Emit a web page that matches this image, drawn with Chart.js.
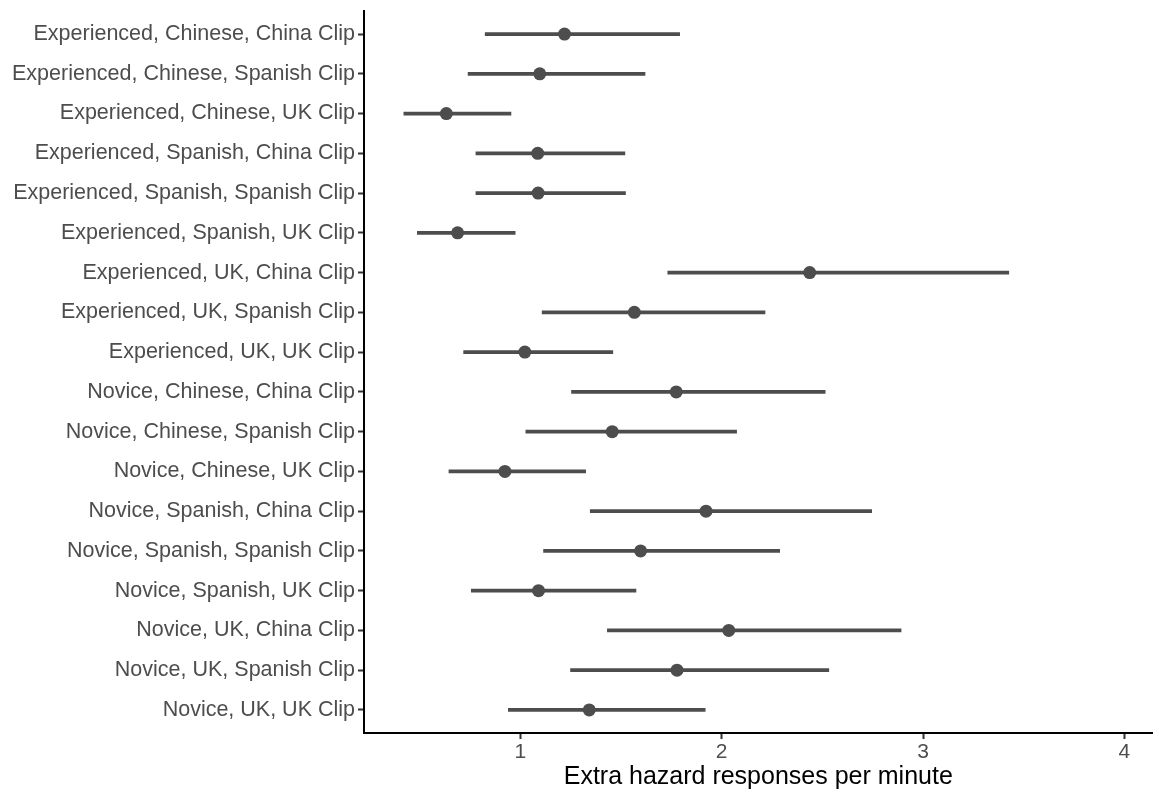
<!DOCTYPE html>
<html>
<head>
<meta charset="utf-8">
<script src="https://cdn.jsdelivr.net/npm/chart.js@4.4.1/dist/chart.umd.min.js"></script>
<style>
  html, body { margin: 0; padding: 0; background: #fff; }
  #wrap { width: 1159px; height: 792px; }
</style>
</head>
<body>
<div id="wrap"><canvas id="chart"></canvas></div>
<script>
// rows, top to bottom
const labels = [
    'Experienced, Chinese, China Clip',
    'Experienced, Chinese, Spanish Clip',
    'Experienced, Chinese, UK Clip',
    'Experienced, Spanish, China Clip',
    'Experienced, Spanish, Spanish Clip',
    'Experienced, Spanish, UK Clip',
    'Experienced, UK, China Clip',
    'Experienced, UK, Spanish Clip',
    'Experienced, UK, UK Clip',
    'Novice, Chinese, China Clip',
    'Novice, Chinese, Spanish Clip',
    'Novice, Chinese, UK Clip',
    'Novice, Spanish, China Clip',
    'Novice, Spanish, Spanish Clip',
    'Novice, Spanish, UK Clip',
    'Novice, UK, China Clip',
    'Novice, UK, Spanish Clip',
    'Novice, UK, UK Clip'
];
const estimate = [1.219, 1.096, 0.632, 1.086, 1.088, 0.688, 2.437, 1.566, 1.022, 1.774, 1.456, 0.923, 1.922, 1.597, 1.090, 2.035, 1.778, 1.342];
const lower = [0.825, 0.740, 0.421, 0.779, 0.779, 0.488, 1.732, 1.108, 0.718, 1.254, 1.027, 0.645, 1.347, 1.115, 0.756, 1.432, 1.249, 0.940];
const upper = [1.791, 1.619, 0.953, 1.519, 1.522, 0.974, 3.426, 2.215, 1.459, 2.514, 2.074, 1.324, 2.745, 2.288, 1.574, 2.891, 2.532, 1.918];
const xTicks = [1, 2, 3, 4];

const rows = labels.map((l, i) => i + 1);
const grey = '#4d4d4d';

new Chart(document.querySelector('#chart').getContext('2d'), {
    data: {
        datasets: [
            {
                type: 'bar',
                data: rows.map((r, i) => ({ y: r, x: [lower[i], upper[i]] })),
                backgroundColor: grey,
                borderWidth: 0,
                barThickness: 3,
                order: 2
            },
            {
                type: 'scatter',
                data: rows.map((r, i) => ({ x: estimate[i], y: r })),
                backgroundColor: grey,
                borderColor: grey,
                pointRadius: 6.5,
                pointBorderWidth: 0,
                order: 1
            }
        ]
    },
    options: {
        indexAxis: 'y',
        responsive: true,
        maintainAspectRatio: false,
        animation: false,
        layout: { padding: { top: 11, right: 3, left: 0, bottom: 0 } },
        plugins: {
            legend: { display: false },
            tooltip: { enabled: false }
        },
        scales: {
            x: {
                type: 'linear',
                min: 0.223,
                max: 4.14,
                afterBuildTicks: (axis) => { axis.ticks = xTicks.map(v => ({ value: v })); },
                afterFit: (axis) => { axis.height = 59; },
                grid: { drawOnChartArea: false, tickLength: 6, tickColor: '#333', tickWidth: 2 },
                border: { color: '#000', width: 2 },
                ticks: { color: grey, font: { family: 'Liberation Sans', size: 21 }, padding: 1 },
                title: {
                    display: true,
                    text: 'Extra hazard responses per minute',
                    color: '#000',
                    font: { family: 'Liberation Sans', size: 25 },
                    padding: { top: 0, bottom: 0 }
                }
            },
            y: {
                type: 'linear',
                reverse: true,
                offset: false,
                min: 0.42,
                max: 18.58,
                afterBuildTicks: (axis) => { axis.ticks = rows.map(v => ({ value: v })); },
                afterFit: (axis) => {
                    axis.width = 364;
                    axis.paddingTop = 0;
                    axis.paddingBottom = 0;
                },
                grid: { offset: false, drawOnChartArea: false, tickLength: 6, tickColor: '#333', tickWidth: 2 },
                border: { color: '#000', width: 2 },
                ticks: {
                    color: grey,
                    font: { family: 'Liberation Sans', size: 21.5 },
                    padding: 3,
                    callback: (v) => labels[v - 1]
                }
            }
        }
    }
});
</script>
</body>
</html>
